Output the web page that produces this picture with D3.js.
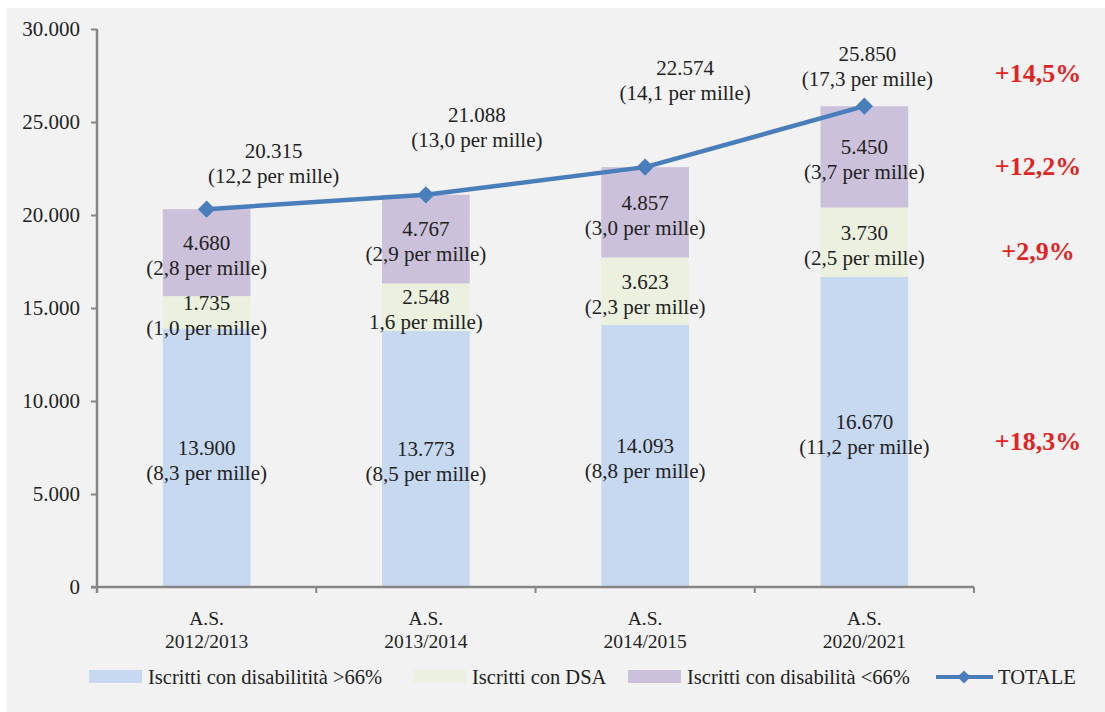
<!DOCTYPE html>
<html>
<head>
<meta charset="utf-8">
<script src="https://cdn.jsdelivr.net/npm/d3@7"></script>
<style>
  html, body { margin: 0; padding: 0; background: #ffffff; }
  svg { display: block; font-family: "Liberation Serif", "Times New Roman", serif; }
</style>
</head>
<body>
<svg id="chart" width="1105" height="712"></svg>
<script>
// ---------- data ----------
const categories = ["2012/2013", "2013/2014", "2014/2015", "2020/2021"];
const categoryPrefix = "A.S.";
const disabOver66 = [13900, 13773, 14093, 16670];
const dsa = [1735, 2548, 3623, 3730];
const disabUnder66 = [4680, 4767, 4857, 5450];
const totale = [20315, 21088, 22574, 25850];
const disabOver66PerMille = ["(8,3 per mille)", "(8,5 per mille)", "(8,8 per mille)", "(11,2 per mille)"];
const dsaPerMille = ["(1,0 per mille)", "1,6 per mille)", "(2,3 per mille)", "(2,5 per mille)"];
const disabUnder66PerMille = ["(2,8 per mille)", "(2,9 per mille)", "(3,0 per mille)", "(3,7 per mille)"];
const totalePerMille = ["(12,2 per mille)", "(13,0 per mille)", "(14,1 per mille)", "(17,3 per mille)"];
const seriesNames = ["Iscritti con disabilitità >66%", "Iscritti con DSA", "Iscritti con disabilità <66%"];
const totaleName = "TOTALE";
const changes = ["+18,3%", "+2,9%", "+12,2%"];
const totaleChange = "+14,5%";
const yTicks = [0, 5000, 10000, 15000, 20000, 25000, 30000];

(function () {
// ---------- layout / style ----------
const colors = ["#c6d9f1", "#ebf1de", "#ccc1da"];
const lineColor = "#4a7ebb";
const axisColor = "#868686";
const textColor = "#222222";
const totalLabelOffset = [[67, -58], [51, -80], [40, -99], [3, -53]];
const fontSize = 21;

const svg = d3.select("#chart");
svg.append("rect").attr("x", 7).attr("y", 8).attr("width", 1098).attr("height", 704).attr("fill", "#f2f2f2");

const pLeft = 97, pRight = 974, pTop = 29, pBottom = 587;
const x = d3.scaleBand().domain(categories).range([pLeft, pRight]).padding(0);
const y = d3.scaleLinear().domain([0, 30000]).range([pBottom, pTop]);
const barW = x.bandwidth() * 0.4;
const cx = c => x(c) + x.bandwidth() / 2;

const it = d3.formatLocale({decimal: ",", thousands: ".", grouping: [3], currency: ["€", ""]});
const fmt = it.format(",d");

const rows = categories.map((c, i) => ({cat: c, a: disabOver66[i], b: dsa[i], c: disabUnder66[i]}));
const stack = d3.stack().keys(["a", "b", "c"])(rows);
const perMille = [disabOver66PerMille, dsaPerMille, disabUnder66PerMille];

// bars
const g = svg.append("g");
stack.forEach((layer, k) => {
  g.selectAll(null).data(layer).enter().append("rect")
    .attr("x", d => cx(d.data.cat) - barW / 2)
    .attr("width", barW)
    .attr("y", d => y(d[1]))
    .attr("height", d => y(d[0]) - y(d[1]))
    .attr("fill", colors[k]);
});

// axes
const yAxis = d3.axisLeft(y).tickValues(yTicks).tickSize(6).tickPadding(11).tickFormat(d => d === 0 ? "0" : fmt(d));
const ya = svg.append("g").attr("transform", `translate(${pLeft},0)`).call(yAxis);
ya.select(".domain").remove();
ya.selectAll(".tick line").attr("stroke", axisColor).attr("stroke-width", 2);
ya.selectAll(".tick text").attr("font-size", fontSize).attr("font-family", "Liberation Serif").attr("fill", textColor);

const xAxis = d3.axisBottom(x).tickValues([]).tickSize(0);
const xa = svg.append("g").attr("transform", `translate(0,${pBottom})`).call(xAxis);
xa.select(".domain").remove();
// boundary ticks
svg.append("g").selectAll("line").data(categories).enter().append("line")
  .attr("x1", d => x(d) + x.bandwidth()).attr("x2", d => x(d) + x.bandwidth())
  .attr("y1", pBottom).attr("y2", pBottom + 6)
  .attr("stroke", axisColor).attr("stroke-width", 2);
svg.append("line").attr("x1", pLeft).attr("x2", pLeft).attr("y1", pTop).attr("y2", pBottom + 6)
  .attr("stroke", axisColor).attr("stroke-width", 2.5);
svg.append("line").attr("x1", pLeft - 6).attr("x2", pRight).attr("y1", pBottom).attr("y2", pBottom)
  .attr("stroke", axisColor).attr("stroke-width", 2.5);

// category labels
const cl = svg.append("g").attr("font-size", 19.5).attr("fill", textColor).attr("text-anchor", "middle");
categories.forEach(c => {
  cl.append("text").attr("x", cx(c)).attr("y", pBottom + 31).attr("dy", "0.35em").text(categoryPrefix);
  cl.append("text").attr("x", cx(c)).attr("y", pBottom + 54).attr("dy", "0.35em").text(c);
});

// segment labels
const sl = svg.append("g").attr("font-size", fontSize).attr("fill", textColor).attr("text-anchor", "middle");
stack.forEach((layer, k) => {
  layer.forEach((d, i) => {
    const my = (y(d[0]) + y(d[1])) / 2 + 2;
    sl.append("text").attr("x", cx(d.data.cat)).attr("y", my - 12).attr("dy", "0.35em").text(fmt(d[1] - d[0]));
    sl.append("text").attr("x", cx(d.data.cat)).attr("y", my + 13).attr("dy", "0.35em").text(perMille[k][i]);
  });
});

// total line
const pts = categories.map((c, i) => [cx(c), y(totale[i])]);
svg.append("path").attr("d", d3.line()(pts)).attr("fill", "none").attr("stroke", lineColor).attr("stroke-width", 4.5).attr("stroke-linejoin", "round");
const diamond = d3.symbol().type(d3.symbolDiamond2).size(190);
svg.append("g").selectAll("path").data(pts).enter().append("path")
  .attr("transform", d => `translate(${d[0]},${d[1]})`).attr("d", diamond).attr("fill", lineColor);

// total labels
categories.forEach((c, i) => {
  const px = cx(c) + totalLabelOffset[i][0], py = y(totale[i]) + totalLabelOffset[i][1];
  sl.append("text").attr("x", px).attr("y", py).attr("dy", "0.35em").text(fmt(totale[i]));
  sl.append("text").attr("x", px).attr("y", py + 25).attr("dy", "0.35em").text(totalePerMille[i]);
});

// change labels at right
const last = categories.length - 1;
const rl = svg.append("g").attr("font-size", 26).attr("font-weight", "bold").attr("fill", "#e02424").attr("text-anchor", "middle");
stack.forEach((layer, k) => {
  const d = layer[last];
  rl.append("text").attr("x", 1038).attr("y", (y(d[0]) + y(d[1])) / 2 + 9).attr("dy", "0.35em").text(changes[k]);
});
rl.append("text").attr("x", 1038).attr("y", y(totale[last]) + totalLabelOffset[last][1] + 20).attr("dy", "0.35em").text(totaleChange);

// legend
const legY = 677;
const legX = [89, 413, 628];
const lg = svg.append("g").attr("font-size", 20.5).attr("fill", textColor);
seriesNames.forEach((n, k) => {
  lg.append("rect").attr("x", legX[k]).attr("y", legY - 7).attr("width", 53).attr("height", 13).attr("fill", colors[k]);
  lg.append("text").attr("x", legX[k] + 59).attr("y", legY).attr("dy", "0.35em").text(n);
});
lg.append("line").attr("x1", 936).attr("x2", 993).attr("y1", legY).attr("y2", legY).attr("stroke", lineColor).attr("stroke-width", 4);
lg.append("path").attr("transform", `translate(964,${legY})`).attr("d", d3.symbol().type(d3.symbolDiamond2).size(110)).attr("fill", lineColor);
lg.append("text").attr("x", 998).attr("y", legY).attr("dy", "0.35em").text(totaleName);
})();
</script>
</body>
</html>
